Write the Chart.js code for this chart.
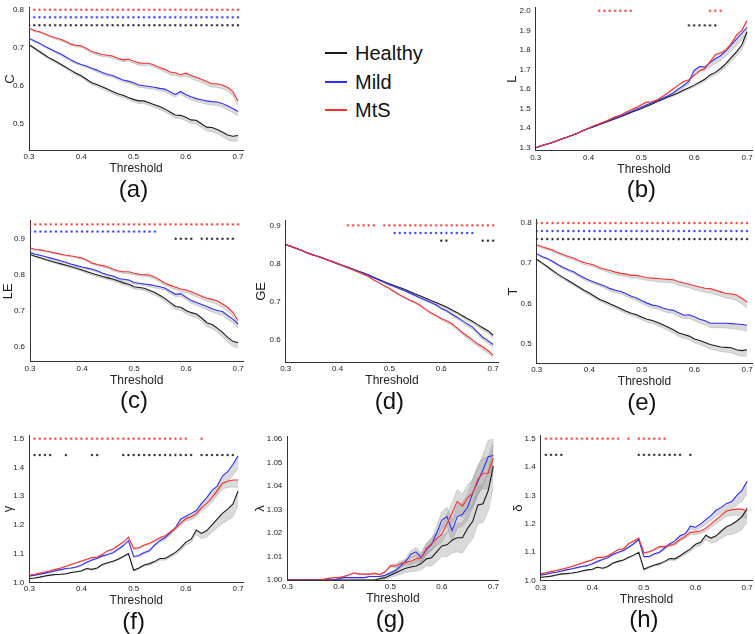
<!DOCTYPE html>
<html>
<head>
<meta charset="utf-8">
<script src="https://cdn.jsdelivr.net/npm/chart.js@4.4.0/dist/chart.umd.min.js"></script>
<style>
  body { margin: 0; width: 755px; height: 634px; overflow: hidden; background: #fff; position: relative;
         font-family: "Liberation Sans", Arial, sans-serif; }
  canvas { position: absolute; }
  .legend { position: absolute; left: 325px; top: 39px; }
  .legend div { height: 28.5px; position: relative; font-size: 20px; line-height: 28px; color: #111; padding-left: 30px; }
  .legend i { position: absolute; left: 0; top: 13px; width: 22px; height: 2px; }
</style>
</head>
<body>
<div class="legend">
  <div><i style="background:#1a1a1a"></i>Healthy</div>
  <div><i style="background:#2f2fff"></i>Mild</div>
  <div><i style="background:#ff2f2f"></i>MtS</div>
</div>
<script>
const thresholds = [0.30,0.31,0.32,0.33,0.34,0.35,0.36,0.37,0.38,0.39,0.40,0.41,0.42,0.43,0.44,0.45,0.46,0.47,0.48,0.49,
  0.50,0.51,0.52,0.53,0.54,0.55,0.56,0.57,0.58,0.59,0.60,0.61,0.62,0.63,0.64,0.65,0.66,0.67,0.68,0.69,0.70];
const xTicks = [0.3, 0.4, 0.5, 0.6, 0.7];
const groups = ['MtS', 'Mild', 'Healthy'];

// (a) C
const cHealthy = [0.708,0.699,0.690,0.681,0.672,0.665,0.657,0.649,0.641,0.633,0.626,0.617,0.608,0.603,0.597,0.591,0.585,0.579,0.575,0.569,
  0.564,0.560,0.560,0.555,0.550,0.545,0.539,0.531,0.523,0.522,0.517,0.510,0.509,0.500,0.491,0.490,0.485,0.478,0.470,0.467,0.469];
const cMild = [0.725,0.718,0.712,0.704,0.697,0.690,0.684,0.676,0.668,0.661,0.656,0.652,0.646,0.641,0.635,0.630,0.627,0.621,0.615,0.612,
  0.608,0.602,0.600,0.598,0.596,0.593,0.591,0.584,0.577,0.585,0.577,0.571,0.566,0.563,0.560,0.558,0.557,0.553,0.547,0.540,0.532];
const cMtS = [0.752,0.745,0.742,0.737,0.731,0.726,0.722,0.717,0.710,0.706,0.705,0.698,0.690,0.686,0.682,0.680,0.678,0.672,0.668,0.670,
  0.665,0.660,0.659,0.659,0.654,0.648,0.643,0.636,0.634,0.629,0.633,0.627,0.622,0.617,0.611,0.605,0.605,0.602,0.596,0.585,0.560];
const aErrH = [.003,.003,.003,.004,.004,.004,.004,.004,.005,.005,.005,.005,.005,.005,.006,.006,.006,.006,.006,.006,
  .007,.007,.007,.007,.007,.008,.008,.008,.008,.009,.009,.009,.010,.010,.010,.011,.011,.012,.012,.013,.014];
const aErrM = [.003,.003,.003,.003,.003,.003,.004,.004,.004,.004,.004,.004,.004,.005,.005,.005,.005,.005,.005,.005,
  .006,.006,.006,.006,.006,.006,.007,.007,.007,.007,.008,.008,.008,.008,.009,.009,.009,.010,.010,.011,.012];

// (b) L
const lHealthy = [1.300,1.310,1.318,1.326,1.336,1.346,1.355,1.365,1.376,1.388,1.398,1.408,1.418,1.428,1.438,1.448,1.458,1.469,1.480,1.490,
  1.500,1.512,1.524,1.536,1.548,1.559,1.569,1.581,1.595,1.607,1.620,1.635,1.650,1.672,1.685,1.705,1.730,1.760,1.790,1.825,1.893];
const lMild = [1.300,1.310,1.318,1.326,1.336,1.346,1.355,1.365,1.376,1.388,1.400,1.410,1.420,1.431,1.442,1.452,1.462,1.473,1.485,1.496,
  1.508,1.520,1.530,1.541,1.553,1.566,1.580,1.600,1.618,1.640,1.695,1.715,1.712,1.735,1.755,1.770,1.795,1.825,1.855,1.885,1.915];
const lMtS = [1.300,1.310,1.318,1.326,1.336,1.346,1.355,1.365,1.376,1.388,1.400,1.413,1.422,1.433,1.445,1.458,1.466,1.480,1.494,1.505,
  1.520,1.533,1.535,1.545,1.562,1.580,1.600,1.620,1.638,1.648,1.670,1.692,1.705,1.740,1.775,1.785,1.800,1.832,1.875,1.900,1.950];
const bErrH = [.002,.002,.002,.002,.002,.002,.002,.002,.002,.002,.002,.002,.002,.002,.002,.002,.002,.002,.002,.002,
  .003,.003,.004,.004,.005,.005,.006,.006,.007,.008,.009,.010,.011,.012,.013,.015,.017,.019,.021,.024,.028];
const bErrM = [.002,.002,.002,.002,.002,.002,.002,.002,.002,.002,.002,.002,.002,.002,.002,.002,.002,.002,.002,.002,
  .003,.004,.005,.006,.007,.008,.009,.010,.012,.014,.016,.018,.020,.022,.024,.026,.028,.030,.032,.034,.036];
const bErrS = [.002,.002,.002,.002,.002,.002,.002,.002,.002,.002,.002,.002,.002,.002,.002,.002,.002,.002,.002,.002,
  .002,.002,.002,.002,.002,.002,.002,.002,.002,.002,.003,.003,.004,.004,.005,.005,.006,.006,.007,.007,.008];

// (c) LE
const leHealthy = [0.856,0.851,0.847,0.842,0.838,0.834,0.830,0.826,0.822,0.818,0.813,0.808,0.803,0.799,0.795,0.791,0.787,0.782,0.777,0.773,
  0.766,0.764,0.762,0.756,0.750,0.742,0.733,0.722,0.711,0.709,0.700,0.694,0.690,0.679,0.666,0.661,0.651,0.639,0.625,0.614,0.610];
const leMild = [0.862,0.857,0.854,0.850,0.846,0.842,0.838,0.834,0.829,0.825,0.821,0.818,0.815,0.810,0.804,0.799,0.796,0.789,0.787,0.785,
  0.778,0.776,0.774,0.772,0.769,0.766,0.762,0.753,0.745,0.747,0.737,0.728,0.722,0.717,0.711,0.705,0.700,0.697,0.686,0.676,0.662];
const leMtS = [0.875,0.870,0.869,0.866,0.863,0.860,0.857,0.854,0.852,0.849,0.846,0.840,0.832,0.828,0.825,0.821,0.815,0.810,0.808,0.808,
  0.804,0.801,0.800,0.799,0.793,0.785,0.776,0.770,0.765,0.760,0.757,0.752,0.746,0.740,0.734,0.731,0.727,0.718,0.709,0.695,0.672];
const cErrH = [.003,.003,.003,.003,.003,.004,.004,.004,.004,.004,.004,.005,.005,.005,.005,.005,.005,.006,.006,.006,
  .006,.006,.007,.007,.007,.007,.008,.008,.008,.009,.009,.009,.010,.010,.011,.011,.012,.012,.013,.014,.015];
const cErrM = [.002,.002,.002,.002,.003,.003,.003,.003,.003,.003,.003,.004,.004,.004,.004,.004,.004,.004,.005,.005,
  .005,.005,.005,.006,.006,.006,.006,.006,.007,.007,.007,.008,.008,.008,.009,.009,.010,.010,.011,.011,.012];

// (d) GE
const geHealthy = [0.850,0.845,0.840,0.835,0.829,0.824,0.820,0.815,0.810,0.805,0.800,0.795,0.790,0.785,0.780,0.775,0.770,0.764,0.758,0.752,
  0.747,0.742,0.737,0.732,0.726,0.720,0.715,0.709,0.703,0.698,0.692,0.686,0.679,0.672,0.664,0.656,0.649,0.640,0.632,0.624,0.612];
const geMild = [0.850,0.845,0.840,0.835,0.829,0.824,0.820,0.815,0.810,0.805,0.800,0.795,0.790,0.785,0.780,0.775,0.769,0.763,0.757,0.751,
  0.745,0.740,0.734,0.729,0.722,0.716,0.710,0.704,0.698,0.692,0.683,0.677,0.668,0.660,0.651,0.642,0.634,0.620,0.607,0.598,0.588];
const geMtS = [0.850,0.845,0.840,0.835,0.829,0.824,0.820,0.815,0.810,0.805,0.800,0.795,0.789,0.784,0.778,0.772,0.766,0.757,0.750,0.742,
  0.735,0.726,0.718,0.711,0.704,0.698,0.690,0.680,0.671,0.664,0.656,0.650,0.643,0.632,0.620,0.610,0.600,0.590,0.582,0.572,0.560];
const dErr = [.001,.001,.001,.001,.001,.001,.001,.001,.001,.001,.002,.002,.002,.002,.002,.002,.002,.002,.002,.002,
  .003,.003,.003,.003,.003,.003,.003,.003,.003,.003,.004,.004,.005,.005,.005,.006,.006,.006,.007,.007,.008];

// (e) T
const tHealthy = [0.710,0.701,0.692,0.682,0.673,0.665,0.657,0.649,0.641,0.633,0.626,0.618,0.610,0.605,0.599,0.593,0.587,0.581,0.576,0.572,
  0.566,0.561,0.558,0.553,0.547,0.541,0.535,0.527,0.523,0.519,0.512,0.508,0.503,0.498,0.495,0.492,0.491,0.490,0.485,0.483,0.485];
const tMild = [0.724,0.717,0.712,0.705,0.697,0.690,0.684,0.679,0.671,0.664,0.658,0.653,0.648,0.643,0.637,0.633,0.630,0.624,0.618,0.614,
  0.607,0.601,0.596,0.594,0.589,0.585,0.583,0.577,0.571,0.572,0.567,0.561,0.557,0.551,0.551,0.551,0.551,0.550,0.549,0.548,0.546];
const tMtS = [0.746,0.741,0.737,0.733,0.727,0.722,0.717,0.713,0.707,0.702,0.699,0.695,0.689,0.685,0.682,0.678,0.675,0.673,0.670,0.670,
  0.667,0.664,0.663,0.662,0.661,0.660,0.659,0.654,0.651,0.648,0.644,0.641,0.638,0.637,0.633,0.629,0.625,0.624,0.621,0.613,0.604];
const eErr = [.003,.003,.003,.003,.004,.004,.004,.004,.004,.005,.005,.005,.005,.005,.006,.006,.006,.006,.006,.007,
  .007,.007,.007,.008,.008,.008,.008,.009,.009,.009,.010,.010,.010,.011,.011,.011,.012,.012,.013,.014,.015];

// (f) gamma
const gamHealthy = [1.013,1.015,1.018,1.022,1.025,1.027,1.028,1.030,1.034,1.037,1.040,1.048,1.045,1.050,1.062,1.068,1.073,1.080,1.090,1.100,
  1.042,1.050,1.060,1.065,1.072,1.083,1.083,1.093,1.104,1.120,1.140,1.150,1.182,1.170,1.180,1.200,1.220,1.240,1.255,1.272,1.318];
const gamMild = [1.022,1.025,1.028,1.032,1.036,1.040,1.044,1.048,1.050,1.053,1.060,1.070,1.078,1.084,1.092,1.097,1.103,1.115,1.128,1.145,
  1.090,1.093,1.104,1.110,1.130,1.145,1.155,1.172,1.190,1.220,1.230,1.240,1.250,1.275,1.295,1.320,1.335,1.370,1.385,1.410,1.440];
const gamMtS = [1.025,1.028,1.032,1.036,1.040,1.045,1.050,1.056,1.062,1.068,1.074,1.080,1.086,1.088,1.098,1.110,1.115,1.128,1.140,1.157,
  1.118,1.120,1.130,1.136,1.145,1.155,1.162,1.175,1.190,1.205,1.222,1.228,1.240,1.260,1.275,1.295,1.320,1.345,1.352,1.356,1.356];
const fErrH = [.002,.002,.002,.002,.002,.002,.002,.002,.002,.002,.003,.003,.003,.003,.003,.003,.003,.003,.003,.003,
  .004,.004,.004,.005,.005,.006,.006,.007,.008,.009,.010,.012,.015,.018,.022,.026,.030,.035,.040,.045,.050];
const fErrM = [.002,.002,.002,.002,.002,.002,.002,.002,.002,.002,.003,.003,.003,.003,.003,.003,.003,.003,.003,.003,
  .004,.004,.005,.005,.006,.006,.007,.008,.009,.010,.012,.014,.016,.018,.020,.023,.026,.030,.034,.038,.042];
const fErrS = [.002,.002,.002,.002,.002,.002,.002,.002,.002,.002,.003,.003,.003,.003,.003,.003,.003,.003,.003,.003,
  .004,.004,.004,.005,.005,.005,.006,.006,.007,.008,.009,.010,.011,.012,.014,.016,.018,.020,.022,.024,.026];

// (g) lambda
const lamHealthy = [1.000,1.000,1.000,1.000,1.000,1.000,1.000,1.000,1.000,1.000,1.000,1.000,1.000,1.000,1.000,1.000,1.000,1.000,1.0005,1.001,
  1.002,1.003,1.004,1.005,1.0055,1.006,1.007,1.009,1.0095,1.012,1.0145,1.015,1.017,1.018,1.018,1.022,1.025,1.032,1.0325,1.038,1.0485];
const lamMild = [1.000,1.000,1.000,1.000,1.000,1.000,1.000,1.000,1.000,1.000,1.0005,1.001,1.001,1.001,1.001,1.001,1.0015,1.0015,1.0015,1.002,
  1.003,1.004,1.006,1.008,1.011,1.012,1.0095,1.013,1.015,1.020,1.0255,1.027,1.021,1.027,1.028,1.031,1.037,1.042,1.047,1.0525,1.053];
const lamMtS = [1.000,1.000,1.000,1.000,1.000,1.000,1.000,1.0003,1.0007,1.001,1.001,1.0015,1.0022,1.003,1.0025,1.0025,1.0025,1.0028,1.0023,1.0035,
  1.006,1.006,1.007,1.0075,1.008,1.009,1.0095,1.0135,1.0155,1.0175,1.0195,1.024,1.0285,1.0335,1.0315,1.035,1.037,1.043,1.0455,1.0455,1.052];
const gErrH = [0,0,0,0,0,0,0,0,0,0,0,0,0,0,0,0,0,.0003,.0005,.0008,
  .001,.0012,.0015,.0018,.002,.0022,.0025,.003,.0035,.004,.0045,.005,.0055,.006,.0065,.007,.0075,.008,.008,.0085,.009];
const gErrM = [0,0,0,0,0,0,0,0,0,0,.0002,.0002,.0002,.0002,.0002,.0002,.0002,.0002,.0002,.0002,
  .0005,.0008,.001,.0012,.0015,.0018,.002,.0022,.0025,.003,.0035,.004,.0045,.005,.005,.0055,.006,.006,.0065,.007,.007];

// (h) delta
const delHealthy = [1.012,1.014,1.016,1.020,1.024,1.025,1.027,1.030,1.034,1.038,1.040,1.048,1.044,1.050,1.062,1.068,1.073,1.082,1.090,1.100,
  1.040,1.048,1.055,1.060,1.068,1.078,1.077,1.088,1.100,1.112,1.128,1.135,1.160,1.150,1.158,1.175,1.190,1.198,1.210,1.225,1.255];
const delMild = [1.020,1.023,1.027,1.030,1.034,1.038,1.042,1.046,1.050,1.053,1.060,1.068,1.075,1.082,1.092,1.100,1.106,1.118,1.130,1.145,
  1.085,1.085,1.095,1.100,1.115,1.130,1.140,1.158,1.165,1.192,1.188,1.200,1.215,1.230,1.248,1.258,1.272,1.278,1.300,1.318,1.350];
const delMtS = [1.025,1.028,1.032,1.036,1.040,1.045,1.050,1.056,1.062,1.068,1.074,1.082,1.082,1.088,1.098,1.110,1.112,1.130,1.140,1.150,
  1.098,1.102,1.110,1.120,1.120,1.125,1.130,1.145,1.155,1.170,1.172,1.175,1.185,1.200,1.215,1.230,1.245,1.250,1.252,1.252,1.245];

// significance marks (thresholds where the difference is significant)
const sigB_MtS = [0.42,0.43,0.44,0.45,0.46,0.47,0.48,0.63,0.64,0.65];
const sigB_Healthy = [0.59,0.60,0.61,0.62,0.63,0.64];
const sigC_Mild = [0.30,0.31,0.32,0.33,0.34,0.35,0.36,0.37,0.38,0.39,0.40,0.41,0.42,0.43,0.44,0.45,0.46,0.47,0.48,0.49,0.50,0.51,0.52,0.53,0.54];
const sigC_Healthy = [0.58,0.59,0.60,0.61,0.63,0.64,0.65,0.66,0.67,0.68,0.69];
const sigD_MtS = [0.42,0.43,0.44,0.45,0.46,0.47,0.49,0.50,0.51,0.52,0.53,0.54,0.55,0.56,0.57,0.58,0.59,0.60,0.61,0.62,0.63,0.64,0.65,0.66,0.67,0.68,0.69,0.70];
const sigD_Mild = [0.51,0.52,0.53,0.54,0.55,0.56,0.57,0.58,0.59,0.60,0.61,0.62,0.63,0.64,0.65,0.66];
const sigD_Healthy = [0.60,0.61,0.68,0.69,0.70];
const sigF_MtS = [0.31,0.32,0.33,0.34,0.35,0.36,0.37,0.38,0.39,0.40,0.41,0.42,0.43,0.44,0.45,0.46,0.47,0.48,0.49,0.50,0.51,0.52,0.53,0.54,0.55,0.56,0.57,0.58,0.59,0.60,0.63];
const sigF_Healthy = [0.31,0.32,0.33,0.34,0.37,0.42,0.43,0.48,0.49,0.50,0.51,0.52,0.53,0.54,0.55,0.56,0.57,0.58,0.59,0.60,0.61,0.63,0.64,0.65,0.66,0.67,0.68,0.69];
const sigH_MtS = [0.31,0.32,0.33,0.34,0.35,0.36,0.37,0.38,0.39,0.40,0.41,0.42,0.43,0.44,0.45,0.47,0.49,0.50,0.51,0.52,0.53,0.54];
const sigH_Healthy = [0.31,0.32,0.33,0.34,0.49,0.50,0.51,0.52,0.53,0.54,0.55,0.56,0.57,0.59];

const FONT = '"Liberation Sans", Arial, sans-serif';
const COL = { Healthy: '#1a1a1a', Mild: '#2f2fff', MtS: '#ff2f2f' };
Chart.defaults.font.family = FONT;

const panels = [
  { cap: '(a)', ylabel: 'C', area: {l: 29, r: 243.2, t: 4.05, b: 150.3}, ymin: 0.43, ymax: 0.805,
    yTicks: [0.5, 0.6, 0.7, 0.8], dec: 1, gap: 19, band: 'below',
    val: {Healthy: cHealthy, Mild: cMild, MtS: cMtS}, err: {Healthy: aErrH, Mild: aErrM, MtS: aErrM},
    sig: [{g: 'MtS', y: 0.80, x: thresholds}, {g: 'Mild', y: 0.78, x: thresholds}, {g: 'Healthy', y: 0.759, x: thresholds}] },
  { cap: '(b)', ylabel: 'L', area: {l: 535.7, r: 752.6, t: 4.3, b: 150.7}, ymin: 1.285, ymax: 2.015,
    yTicks: [1.3, 1.4, 1.5, 1.6, 1.7, 1.8, 1.9, 2.0], dec: 1, gap: 23, band: 'below',
    val: {Healthy: lHealthy, Mild: lMild, MtS: lMtS}, err: {Healthy: bErrH, Mild: bErrM, MtS: bErrS},
    sig: [{g: 'MtS', y: 2.0, x: sigB_MtS}, {g: 'Healthy', y: 1.925, x: sigB_Healthy}] },
  { cap: '(c)', ylabel: 'LE', area: {l: 30, r: 243.5, t: 217.7, b: 361.8}, ymin: 0.557, ymax: 0.95,
    yTicks: [0.6, 0.7, 0.8, 0.9], dec: 1, gap: 22, band: 'below',
    val: {Healthy: leHealthy, Mild: leMild, MtS: leMtS}, err: {Healthy: cErrH, Mild: cErrM, MtS: cErrM},
    sig: [{g: 'MtS', y: 0.94, x: thresholds}, {g: 'Mild', y: 0.92, x: sigC_Mild}, {g: 'Healthy', y: 0.90, x: sigC_Healthy}] },
  { cap: '(d)', ylabel: 'GE', area: {l: 285.7, r: 498.5, t: 217, b: 362}, ymin: 0.542, ymax: 0.912,
    yTicks: [0.6, 0.7, 0.8, 0.9], dec: 1, gap: 24.5, band: 'below',
    val: {Healthy: geHealthy, Mild: geMild, MtS: geMtS}, err: {Healthy: dErr, Mild: dErr, MtS: dErr},
    sig: [{g: 'MtS', y: 0.90, x: sigD_MtS}, {g: 'Mild', y: 0.88, x: sigD_Mild}, {g: 'Healthy', y: 0.86, x: sigD_Healthy}] },
  { cap: '(e)', ylabel: 'T', area: {l: 536.7, r: 752.6, t: 216, b: 363.1}, ymin: 0.452, ymax: 0.808,
    yTicks: [0.5, 0.6, 0.7, 0.8], dec: 1, gap: 23.5, band: 'below',
    val: {Healthy: tHealthy, Mild: tMild, MtS: tMtS}, err: {Healthy: eErr, Mild: eErr, MtS: eErr},
    sig: [{g: 'MtS', y: 0.80, x: thresholds}, {g: 'Mild', y: 0.78, x: thresholds}, {g: 'Healthy', y: 0.76, x: thresholds}] },
  { cap: '(f)', ylabel: 'γ', area: {l: 29.3, r: 243.5, t: 432.8, b: 582.3}, ymin: 1.0, ymax: 1.51,
    yTicks: [1.0, 1.1, 1.2, 1.3, 1.4, 1.5], dec: 1, gap: 21, band: 'below',
    val: {Healthy: gamHealthy, Mild: gamMild, MtS: gamMtS}, err: {Healthy: fErrH, Mild: fErrM, MtS: fErrS},
    sig: [{g: 'MtS', y: 1.5, x: sigF_MtS}, {g: 'Healthy', y: 1.443, x: sigF_Healthy}] },
  { cap: '(g)', ylabel: 'λ', area: {l: 287.3, r: 498.5, t: 433.3, b: 580}, ymin: 1.0, ymax: 1.061,
    yTicks: [1.00, 1.01, 1.02, 1.03, 1.04, 1.05, 1.06], dec: 2, gap: 27, band: 'both',
    val: {Healthy: lamHealthy, Mild: lamMild, MtS: lamMtS}, err: {Healthy: gErrH, Mild: gErrM, MtS: gErrM},
    sig: [] },
  { cap: '(h)', ylabel: 'δ', area: {l: 540.7, r: 752.5, t: 432.1, b: 580.7}, ymin: 1.0, ymax: 1.51,
    yTicks: [1.0, 1.1, 1.2, 1.3, 1.4, 1.5], dec: 1, gap: 22.5, band: 'below',
    val: {Healthy: delHealthy, Mild: delMild, MtS: delMtS}, err: {Healthy: fErrH, Mild: fErrM, MtS: fErrS},
    sig: [{g: 'MtS', y: 1.5, x: sigH_MtS}, {g: 'Healthy', y: 1.443, x: sigH_Healthy}] }
];

// caption "(a)" etc. under the x axis title
const captionPlugin = {
  id: 'caption',
  afterDraw(chart, args, opts) {
    const {ctx, chartArea} = chart;
    ctx.save();
    ctx.font = '24px ' + FONT;
    ctx.fillStyle = '#111';
    ctx.textAlign = 'center';
    ctx.textBaseline = 'middle';
    ctx.fillText(opts.text, chart.scales.x.getPixelForValue(0.5), chartArea.bottom + 40);
    ctx.restore();
  }
};

function makePanel(p) {
  const yW = 36, padTop = 6, padRight = 4, xH = 54;
  const a = p.area;
  const cx = Math.floor(a.l - yW), cy = Math.floor(a.t - padTop);
  const w = Math.ceil(a.r + padRight - cx), h = Math.ceil(a.b + xH - cy);
  const xAxisH = h - (a.b - cy);

  const canvas = document.createElement('canvas');
  canvas.width = w; canvas.height = h;
  canvas.style.left = cx + 'px'; canvas.style.top = cy + 'px';
  canvas.style.width = w + 'px'; canvas.style.height = h + 'px';
  document.body.appendChild(canvas);

  const datasets = [];
  p.sig.forEach(row => {
    datasets.push({
      data: row.x.map(t => ({x: t, y: row.y})),
      showLine: false, pointStyle: 'star', pointRadius: 1.25, borderWidth: 0.7,
      borderColor: COL[row.g], backgroundColor: COL[row.g], order: 0
    });
  });
  groups.forEach(g => {
    datasets.push({
      data: thresholds.map((t, i) => ({x: t, y: p.val[g][i]})),
      borderColor: COL[g], borderWidth: 1.1, pointRadius: 0, fill: false, order: 1
    });
  });
  groups.forEach(g => {
    const v = p.val[g], e = p.err[g];
    datasets.push({
      data: thresholds.map((t, i) => ({x: t, y: v[i] - e[i]})),
      borderColor: 'rgba(120,120,120,0.45)', borderWidth: 0.6, pointRadius: 0, fill: false, order: 2
    });
    datasets.push({
      data: thresholds.map((t, i) => ({x: t, y: p.band === 'both' ? v[i] + e[i] : v[i]})),
      borderColor: 'rgba(120,120,120,0.45)', borderWidth: p.band === 'both' ? 0.6 : 0, pointRadius: 0,
      fill: '-1', backgroundColor: 'rgba(150,150,150,0.35)', order: 2
    });
  });

  new Chart(canvas, {
    type: 'line',
    data: { datasets },
    plugins: [captionPlugin],
    options: {
      responsive: false,
      animation: false,
      events: [],
      layout: { padding: { left: a.l - yW - cx, top: a.t - cy, right: w - (a.r - cx), bottom: 0 } },
      plugins: {
        legend: { display: false },
        tooltip: { enabled: false },
        caption: { text: p.cap }
      },
      scales: {
        x: {
          type: 'linear', min: 0.3, max: 0.71,
          grid: { display: false, drawTicks: false },
          border: { display: true, color: '#333', width: 1 },
          afterBuildTicks: s => { s.ticks = xTicks.map(v => ({value: v})); },
          afterFit: s => { s.height = xAxisH; },
          ticks: { padding: 2, color: '#222', font: { size: 8 }, maxRotation: 0, autoSkip: false,
                   callback: v => v.toFixed(1) },
          title: { display: true, text: 'Threshold', color: '#222', font: { size: 12 },
                   padding: { top: 0, bottom: xAxisH - 18.5 - 7.2 } }
        },
        y: {
          type: 'linear', min: p.ymin, max: p.ymax,
          grid: { display: false, drawTicks: false },
          border: { display: true, color: '#333', width: 1 },
          afterBuildTicks: s => { s.ticks = p.yTicks.map(v => ({value: v})); },
          afterFit: s => { s.width = yW; },
          ticks: { padding: 5, color: '#222', font: { size: 8 }, autoSkip: false,
                   callback: v => v.toFixed(p.dec) },
          title: { display: true, text: p.ylabel, color: '#222', font: { size: 13 },
                   padding: { top: yW - p.gap - 7.8, bottom: 0 } }
        }
      }
    }
  });
}

panels.forEach(makePanel);
</script>
</body>
</html>
